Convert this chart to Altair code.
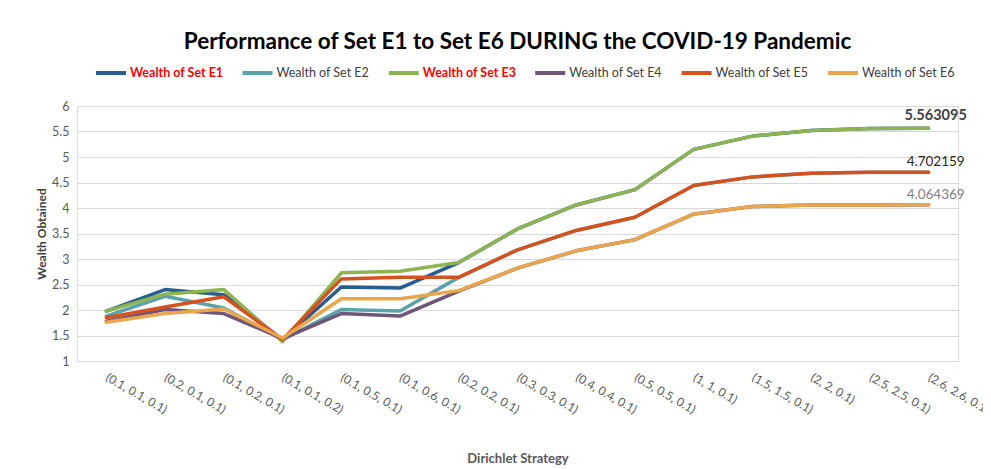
import altair as alt
import pandas as pd

categories = ["(0.1, 0.1, 0.1)", "(0.2, 0.1, 0.1)", "(0.1, 0.2, 0.1)", "(0.1, 0.1, 0.2)",
              "(0.1, 0.5, 0.1)", "(0.1, 0.6, 0.1)", "(0.2, 0.2, 0.1)", "(0.3, 0.3, 0.1)",
              "(0.4, 0.4, 0.1)", "(0.5, 0.5, 0.1)", "(1, 1, 0.1)", "(1.5, 1.5, 0.1)",
              "(2, 2, 0.1)", "(2.5, 2.5, 0.1)", "(2.6, 2.6, 0.1)"]
series_names = ["Wealth of Set E1", "Wealth of Set E2", "Wealth of Set E3",
                "Wealth of Set E4", "Wealth of Set E5", "Wealth of Set E6"]
e1 = [1.98, 2.40, 2.30, 1.42, 2.45, 2.43, 2.93, 3.59, 4.06, 4.36, 5.15, 5.41, 5.52, 5.56, 5.563095]
e2 = [1.88, 2.27, 2.04, 1.42, 2.01, 1.98, 2.64, 3.18, 3.56, 3.82, 4.44, 4.61, 4.68, 4.70, 4.702159]
e3 = [1.98, 2.31, 2.40, 1.38, 2.73, 2.76, 2.93, 3.59, 4.06, 4.36, 5.15, 5.41, 5.52, 5.56, 5.563095]
e4 = [1.78, 2.01, 1.93, 1.44, 1.93, 1.88, 2.37, 2.82, 3.16, 3.38, 3.88, 4.03, 4.06, 4.06, 4.064369]
e5 = [1.85, 2.06, 2.26, 1.42, 2.61, 2.64, 2.64, 3.18, 3.56, 3.82, 4.44, 4.61, 4.68, 4.70, 4.702159]
e6 = [1.76, 1.93, 2.02, 1.45, 2.22, 2.22, 2.38, 2.82, 3.16, 3.38, 3.88, 4.03, 4.06, 4.06, 4.064369]
colors = ["#255e91", "#5ba3ab", "#8cb452", "#6f5577", "#d5521f", "#eaa64d"]
y_ticks = [1, 1.5, 2, 2.5, 3, 3.5, 4, 4.5, 5, 5.5, 6]

rows = []
for name, vals in zip(series_names, [e1, e2, e3, e4, e5, e6]):
    for i, (c, v) in enumerate(zip(categories, vals)):
        rows.append({"Strategy": c, "Series": name, "Wealth": v, "order": i,
                     "sorder": series_names.index(name)})
df = pd.DataFrame(rows)

FONT = "Lato"
x_enc = alt.X("Strategy:N", sort=categories,
              scale=alt.Scale(padding=0.5),
              axis=alt.Axis(title="Dirichlet Strategy", labelAngle=30, labelAlign="left",
                            labelBaseline="middle", labelPadding=15, ticks=False,
                            domain=False, grid=False, labelColor="#595959",
                            labelFontSize=12, labelFont=FONT, labelOverlap=False,
                            titleFont=FONT, titleFontSize=13, titleFontWeight="bold",
                            titleColor="#595959", titleY=91, titleBaseline="top"))
y_enc = alt.Y("Wealth:Q", scale=alt.Scale(domain=[1, 6], nice=False, zero=False),
              axis=alt.Axis(title="Wealth Obtained", values=y_ticks, tickCount=11, format="~g",
                            grid=True, gridColor="#d9d9d9", gridWidth=1, domain=False, ticks=False,
                            labelColor="#595959", labelFontSize=12.5, labelFont=FONT,
                            labelPadding=8, labelOverlap=False, titleFont=FONT, titleFontSize=12,
                            titleFontWeight="bold", titleColor="#404040", titlePadding=3))

legend = alt.Legend(title=None, orient="none", legendX=17, legendY=-50, direction="horizontal",
                    columns=6, gridAlign="all", symbolType="stroke", symbolSize=900,
                    symbolStrokeWidth=4, labelFont=FONT, labelFontSize=12.5, labelOffset=2,
                    columnPadding=10.4, padding=0,
                    labelColor=alt.expr("indexof(['Wealth of Set E1','Wealth of Set E3'], datum.label) >= 0 ? '#ff0000' : '#404040'"),
                    labelFontWeight=alt.expr("indexof(['Wealth of Set E1','Wealth of Set E3'], datum.label) >= 0 ? 'bold' : 'normal'"))

lines = alt.Chart(df).mark_line(strokeWidth=3.5, strokeCap="round", strokeJoin="round").encode(
    x=x_enc, y=y_enc,
    color=alt.Color("Series:N", scale=alt.Scale(domain=series_names, range=colors), legend=legend),
    order=alt.Order("sorder:Q"),
    detail="Series:N",
)

def label_layer(series, weight, color, size, dy):
    return alt.Chart(df).transform_filter(
        (alt.datum.Series == series) & (alt.datum.order == len(categories) - 1)
    ).mark_text(font=FONT, fontWeight=weight, color=color, fontSize=size, dx=7, dy=dy,
                align="center", baseline="middle").encode(
        x=x_enc,
        y=y_enc,
        text=alt.Text("Wealth:Q", format=".6f"),
    )

chart = alt.layer(
    lines,
    label_layer("Wealth of Set E3", "bold", "#404040", 14.5, -12),
    label_layer("Wealth of Set E5", "normal", "#262626", 13.5, -10),
    label_layer("Wealth of Set E6", "normal", "#7f7f7f", 13.5, -10),
).properties(
    width=881, height=255,
    title=alt.TitleParams("Performance of Set E1 to Set E6 DURING the COVID-19 Pandemic",
                          font=FONT, fontSize=22.5, fontWeight="bold", color="#000000",
                          anchor="middle", offset=3),
    autosize=alt.AutoSizeParams(type="none"),
    padding={"left": 69, "top": 98, "right": 25, "bottom": 105},
).configure_view(stroke=None).configure(background="white")

chart.save("out.html", embed_options={"renderer": "svg", "actions": False})
